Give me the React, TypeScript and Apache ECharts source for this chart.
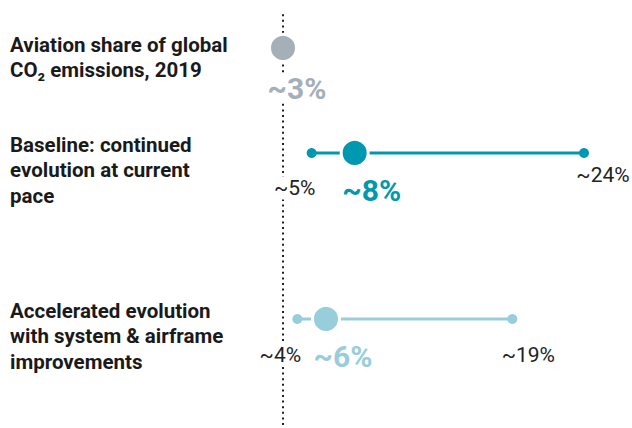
import React, { useEffect, useRef } from "react";
import * as echarts from "echarts";

const rowKeys = ["share", "baseline", "accelerated"];
const rowLabels = [
  "Aviation share of global\nCO₂ emissions, 2019",
  "Baseline: continued\nevolution at current\npace",
  "Accelerated evolution\nwith system & airframe\nimprovements",
];
const centralValues = [3, 8, 6];
const lowValues = [null, 5, 4];
const highValues = [null, 24, 19];
const referenceValue = 3;
const rowColors = ["#a5afb7", "#0098b0", "#98cddc"];

const FONT = "Roboto";

export default function App() {
  const ref = useRef<HTMLDivElement>(null);
  useEffect(() => {
    document.body.style.margin = "0";
    const chart = echarts.init(ref.current!, null, { renderer: "svg" });
    const rowCenters = [48, 153, 319];
    const labelTops = [32, 132, 298];
    const grids: any[] = rowCenters.map((c) => ({ left: 240, right: 5, top: c - 10, height: 20 }));
    grids.push({ left: 240, right: 5, top: 12, bottom: 3 });
    const xAxes = grids.map((_, i) => ({ type: "value", gridIndex: i, min: 0, max: 27, show: false }));
    const yAxes: any[] = rowKeys.map((k, i) => ({ type: "category", gridIndex: i, data: [k], show: false }));
    yAxes.push({ type: "value", gridIndex: 3, min: 0, max: 1, show: false });

    const fmt = (p: any) => "~" + p.value[0] + "%";
    const smallLabel = {
      show: true,
      position: "inside",
      formatter: fmt,
      fontFamily: FONT,
      fontSize: 21,
      color: "#222",
      backgroundColor: "#fff",
      padding: [1, 1],
    };
    const lowOffsets = [null, [-17, 35], [-17, 36]];
    const highOffsets = [null, [19, 22], [16, 36]];
    const centralOffsets = [[14, 40], [17, 37], [17, 37]];

    const series: any[] = [
      {
        type: "line",
        xAxisIndex: 3,
        yAxisIndex: 3,
        z: 1,
        silent: true,
        symbol: "none",
        lineStyle: { color: "#222", width: 2, type: [2, 3.6], cap: "butt" },
        data: [
          [referenceValue, 0],
          [referenceValue, 1],
        ],
      },
    ];
    rowKeys.forEach((k, i) => {
      if (lowValues[i] != null && highValues[i] != null) {
        series.push({
          type: "line",
          xAxisIndex: i,
          yAxisIndex: i,
          z: 2,
          symbol: "circle",
          symbolSize: 10,
          lineStyle: { color: rowColors[i], width: 3 },
          itemStyle: { color: rowColors[i] },
          data: [
            { value: [lowValues[i], k], label: { ...smallLabel, offset: lowOffsets[i] } },
            { value: [highValues[i], k], label: { ...smallLabel, offset: highOffsets[i] } },
          ],
        });
      }
      series.push({
        type: "scatter",
        xAxisIndex: i,
        yAxisIndex: i,
        z: 3,
        symbolSize: 27,
        itemStyle: { color: rowColors[i], borderColor: "#fff", borderWidth: 3, opacity: 1 },
        label: {
          show: true,
          position: "inside",
          offset: centralOffsets[i],
          formatter: fmt,
          fontFamily: FONT,
          fontWeight: "bold",
          fontSize: 30,
          color: rowColors[i],
          backgroundColor: "#fff",
          padding: [0, 1],
        },
        data: [[centralValues[i], k]],
      });
    });

    const graphic = rowLabels.map((t, i) => ({
      type: "text",
      left: 10,
      top: labelTops[i],
      style: {
        text: t,
        fontFamily: FONT,
        fontWeight: "bold",
        fontSize: 20.5,
        lineHeight: 25.5,
        fill: "#1a1a1a",
      },
    }));

    chart.setOption({
      animation: false,
      grid: grids,
      xAxis: xAxes,
      yAxis: yAxes,
      series,
      graphic,
    });
    return () => chart.dispose();
  }, []);
  return <div ref={ref} style={{ width: 632, height: 428, background: "#fff" }} />;
}
